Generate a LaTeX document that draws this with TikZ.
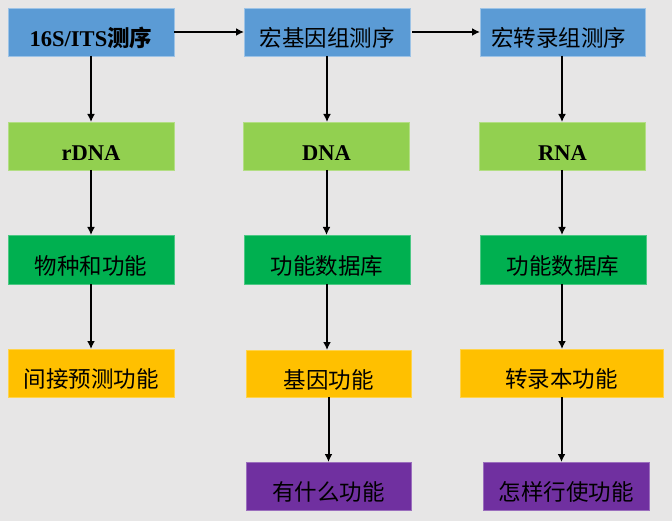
\documentclass[tikz,border=0pt]{standalone}
\usepackage{fontspec}
\setmainfont{Liberation Serif}
\newfontfamily\cjk{Noto Sans CJK SC}
\usetikzlibrary{arrows.meta}
\definecolor{bgc}{HTML}{E7E6E6}
\definecolor{cblue}{HTML}{5B9BD5}
\definecolor{clgreen}{HTML}{92D050}
\definecolor{cgreen}{HTML}{00B050}
\definecolor{cyellow}{HTML}{FFC000}
\definecolor{cpurple}{HTML}{7030A0}
\tikzset{
  box/.style={rectangle, inner sep=0pt, outer sep=0pt, minimum height=48pt, minimum width=166pt, line width=0.6pt},
  bluebox/.style={box, fill=cblue, draw=cblue!60!white},
  lgbox/.style={box, fill=clgreen, draw=clgreen!70!white},
  gbox/.style={box, fill=cgreen, draw=cgreen!70!white},
  ybox/.style={box, fill=cyellow, draw=cyellow!70!white},
  pbox/.style={box, fill=cpurple, draw=cpurple!70!white},
  txt/.style={font=\fontsize{22.5}{26}\selectfont, text=black, inner sep=0pt, yshift=-6pt},
  arr/.style={line width=2pt, -{Latex[length=8pt,width=8pt]}}
}
\begin{document}
\begin{tikzpicture}[x=1pt,y=-1pt]
\fill[bgc] (0,0) rectangle (672,521);
\useasboundingbox (0,0) rectangle (672,521);
% row 1
\node[bluebox] (b1) at (91,32) {};
\node[bluebox] (b2) at (327,32) {};
\node[bluebox, minimum width=165pt] (b3) at (562.5,32) {};
% row 2
\node[lgbox] (g1) at (91,146) {};
\node[lgbox] (g2) at (326.5,146) {};
\node[lgbox] (g3) at (562.5,146) {};
% row 3
\node[gbox, minimum height=49pt] (d1) at (91,259.5) {};
\node[gbox, minimum height=49pt] (d2) at (327,259.5) {};
\node[gbox, minimum height=49pt] (d3) at (563,259.5) {};
% row 4
\node[ybox] (y1) at (91,373) {};
\node[ybox, minimum width=165pt, minimum height=47pt] (y2) at (328.5,373.5) {};
\node[ybox, minimum width=203pt] (y3) at (561.5,373) {};
% row 5
\node[pbox, minimum width=165pt] (p2) at (328.5,486) {};
\node[pbox] (p3) at (566,486) {};
% texts
\node[txt] (t1) at (b1.center) {\bfseries 16S/ITS{\cjk\bfseries 测序}};
\node[txt] (t2) at (b2.center) {\cjk 宏基因组测序};
\node[txt, xshift=-4pt] (t3) at (b3.center) {\cjk 宏转录组测序};
\node[txt] (t4) at ([yshift=-1.5pt]g1.center) {\bfseries rDNA};
\node[txt] (t5) at ([yshift=-1.5pt]g2.center) {\bfseries DNA};
\node[txt] (t6) at ([yshift=-1.5pt]g3.center) {\bfseries RNA};
\node[txt] (t7) at (d1.center) {\cjk 物种和功能};
\node[txt] (t8) at (d2.center) {\cjk 功能数据库};
\node[txt] (t9) at (d3.center) {\cjk 功能数据库};
\node[txt] (t10) at (y1.center) {\cjk 间接预测功能};
\node[txt] (t11) at (y2.center) {\cjk 基因功能};
\node[txt] (t12) at (y3.center) {\cjk 转录本功能};
\node[txt] (t13) at (p2.center) {\cjk 有什么功能};
\node[txt] (t14) at (p3.center) {\cjk 怎样行使功能};
% arrows
\draw[arr] (b1.east) -- (b2.west);
\draw[arr] ([xshift=2pt]b2.east) -- (b3.west);
\draw[arr] (b1.south) -- (g1.north);
\draw[arr] (g1.south) -- (d1.north);
\draw[arr] (d1.south) -- (y1.north);
\draw[arr] (b2.south) -- (b2.south |- g2.north);
\draw[arr] (g2.south) -- (g2.south |- d2.north);
\draw[arr] (d2.south) -- (d2.south |- y2.north);
\draw[arr] (y2.south) -- (y2.south |- p2.north);
\draw[arr] ([xshift=-0.5pt]b3.south) -- ([xshift=-0.5pt]b3.south |- g3.north);
\draw[arr] ([xshift=-0.5pt]g3.south) -- ([xshift=-0.5pt]g3.south |- d3.north);
\draw[arr] ([xshift=-1pt]d3.south) -- ([xshift=-1pt]d3.south |- y3.north);
\draw[arr] (y3.south) -- (y3.south |- p3.north);
\end{tikzpicture}
\end{document}
